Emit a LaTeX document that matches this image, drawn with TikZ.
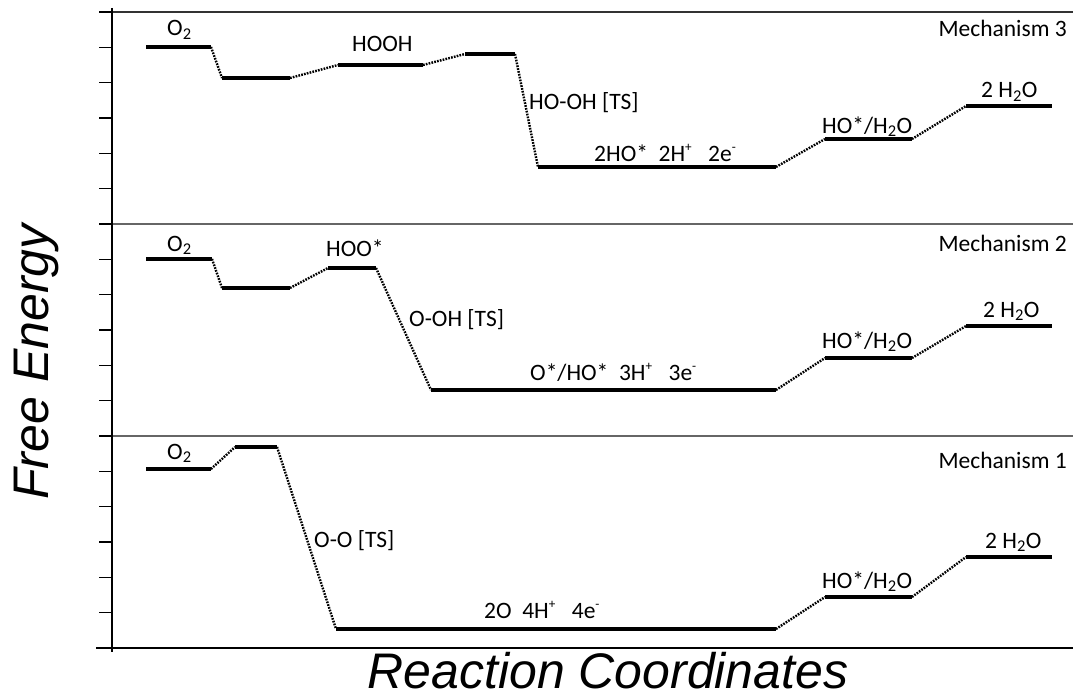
\documentclass[tikz,border=0pt]{standalone}
\usepackage{fontspec}
\setmainfont{Carlito}
\newfontfamily\axisfont{Liberation Sans}
\begin{document}
\begin{tikzpicture}[x=1pt,y=-1pt,
  levelline/.style={line width=3.2pt},
  stepline/.style={line width=2.4pt,dash pattern=on 1.7pt off 1.2pt},
  frameline/.style={line width=1.5pt,black!80},
  panelline/.style={line width=1.2pt,black!60},
  lbl/.style={font=\fontsize{23.5}{28}\selectfont,inner sep=0pt,anchor=base west},
  mech/.style={font=\fontsize{23.5}{28}\selectfont,inner sep=0pt,anchor=base east},
  axislabel/.style={font=\axisfont\itshape\fontsize{50}{58}\selectfont,inner sep=0pt,anchor=base}]
\useasboundingbox (0,0) rectangle (1073,698);

% energy level: name, x start, x end, height
\newcommand\enlevel[4]{%
  \coordinate (#1-l) at (#2,#4);
  \coordinate (#1-r) at (#3,#4);
  \draw[levelline] (#1-l) -- (#1-r);}
% small charge superscript
\newcommand\chg[1]{\textsuperscript{\scalebox{0.8}{#1}}}

% frame, panel dividers and axes
\coordinate (top-l) at (99,12);   \coordinate (top-r) at (1073,12);
\coordinate (d1-l) at (99,224);   \coordinate (d1-r) at (1073,224);
\coordinate (d2-l) at (99,436);   \coordinate (d2-r) at (1073,436);
\coordinate (ax-t) at (112,8);    \coordinate (ax-b) at (112,652);
\coordinate (ax-l) at (96,648);   \coordinate (ax-r) at (1073,648);
\draw[frameline] (top-l) -- (top-r);
\draw[panelline] (d1-l) -- (d1-r);
\draw[panelline] (d2-l) -- (d2-r);
\draw[line width=1.6pt] (ax-t) -- (ax-b);
\draw[line width=1.6pt] (ax-l) -- (ax-r);
\foreach \k in {0,...,18}
  \draw[line width=1.3pt] (99,{12+\k*35.333}) -- (112,{12+\k*35.333});

% Mechanism 3
\enlevel{m3a}{146}{211}{47}
\enlevel{m3b}{222}{290}{78}
\enlevel{m3c}{338}{423}{65}
\enlevel{m3d}{465}{515}{54}
\enlevel{m3e}{538}{776}{167}
\enlevel{m3f}{825}{912}{139}
\enlevel{m3g}{966}{1052}{106}
\draw[stepline] (m3a-r) -- (m3b-l);
\draw[stepline] (m3b-r) -- (m3c-l);
\draw[stepline] (m3c-r) -- (m3d-l);
\draw[stepline] (m3d-r) -- (m3e-l);
\draw[stepline] (m3e-r) -- (m3f-l);
\draw[stepline] (m3f-r) -- (m3g-l);
\node[lbl] (t3a) at (167,36) {O\textsubscript{2}};
\node[lbl] (t3c) at (352,52) {HOOH};
\node[lbl] (t3d) at (529,110) {HO-OH [TS]};
\node[lbl] (t3e) at (594,161) {2HO*\ \ 2H\chg{+}\ \ \ 2e\chg{-}};
\node[lbl] (t3f) at (822,133) {HO*/H\textsubscript{2}O};
\node[lbl] (t3g) at (981,98) {2 H\textsubscript{2}O};
\node[mech] (t3m) at (1067,37) {Mechanism 3};

% Mechanism 2
\enlevel{m2a}{146}{212}{259}
\enlevel{m2b}{222}{290}{288}
\enlevel{m2c}{328}{376}{268}
\enlevel{m2d}{431}{776}{390}
\enlevel{m2e}{825}{912}{358}
\enlevel{m2f}{966}{1052}{326}
\draw[stepline] (m2a-r) -- (m2b-l);
\draw[stepline] (m2b-r) -- (m2c-l);
\draw[stepline] (m2c-r) -- (m2d-l);
\draw[stepline] (m2d-r) -- (m2e-l);
\draw[stepline] (m2e-r) -- (m2f-l);
\node[lbl] (t2a) at (167,251) {O\textsubscript{2}};
\node[lbl] (t2c) at (326,256) {HOO*};
\node[lbl] (t2d) at (409,326) {O-OH [TS]};
\node[lbl] (t2e) at (530,380) {O*/HO*\ \ 3H\chg{+}\ \ \ 3e\chg{-}};
\node[lbl] (t2f) at (822,348) {HO*/H\textsubscript{2}O};
\node[lbl] (t2g) at (983,317) {2 H\textsubscript{2}O};
\node[mech] (t2m) at (1067,251) {Mechanism 2};

% Mechanism 1
\enlevel{m1a}{146}{211}{469}
\enlevel{m1b}{235}{277}{447}
\enlevel{m1c}{336}{776}{629}
\enlevel{m1d}{825}{912}{597}
\enlevel{m1e}{966}{1052}{557}
\draw[stepline] (m1a-r) -- (m1b-l);
\draw[stepline] (m1b-r) -- (m1c-l);
\draw[stepline] (m1c-r) -- (m1d-l);
\draw[stepline] (m1d-r) -- (m1e-l);
\node[lbl] (t1a) at (167,459) {O\textsubscript{2}};
\node[lbl] (t1c) at (314,547) {O-O [TS]};
\node[lbl] (t1d) at (484,618) {2O\ \ 4H\chg{+}\ \ \ 4e\chg{-}};
\node[lbl] (t1e) at (822,588) {HO*/H\textsubscript{2}O};
\node[lbl] (t1f) at (985,548) {2 H\textsubscript{2}O};
\node[mech] (t1m) at (1067,468) {Mechanism 1};

% axis titles
\node[axislabel,rotate=90] (yl) at (48,362) {Free Energy};
\node[axislabel] (xl) at (608,688) {Reaction Coordinates};
\end{tikzpicture}
\end{document}
